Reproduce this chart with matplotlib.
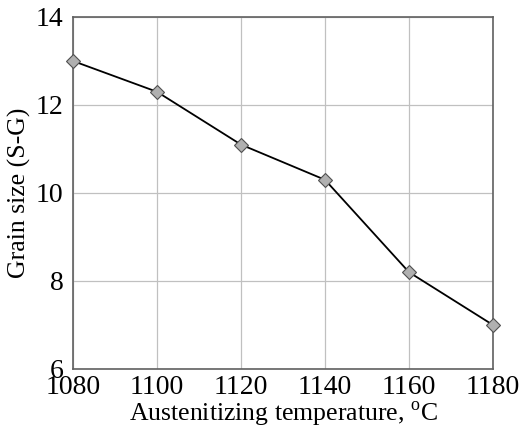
import matplotlib.pyplot as plt

plt.rcParams['font.family'] = ['Liberation Serif', 'DejaVu Serif']
plt.rcParams['mathtext.fontset'] = 'custom'
plt.rcParams['mathtext.rm'] = 'Liberation Serif'

temperature = [1080, 1100, 1120, 1140, 1160, 1180]
grain_size = [13.0, 12.3, 11.1, 10.3, 8.2, 7.0]

fig = plt.figure(figsize=(5.19, 4.29), dpi=100)
ax = fig.add_axes([73/519, 1 - 369/429, 420/519, 352/429])

ax.plot(temperature, grain_size, color='black', lw=1.3,
        marker='D', ms=7, mfc='#b0b0b0', mec='#505050', mew=0.8, clip_on=False, zorder=3)

ax.set_xlim(1080, 1180)
ax.set_ylim(6, 14)
ax.set_xticks([1080, 1100, 1120, 1140, 1160, 1180])
ax.set_yticks([6, 8, 10, 12, 14])
ax.grid(True, color='#c0c0c0', lw=0.9)
ax.tick_params(length=0, labelsize=20)
ax.tick_params(axis='x', pad=4)
ax.tick_params(axis='y', pad=7)
for s in ax.spines.values():
    s.set_color('#606060')
    s.set_linewidth(1.2)

ax.set_xlabel('Austenitizing temperature, $^{\\mathrm{o}}$C', fontsize=18.5, labelpad=0)
ax.set_ylabel('Grain size (S-G)', fontsize=18.5, labelpad=3)

plt.savefig('out.png', dpi=100)
